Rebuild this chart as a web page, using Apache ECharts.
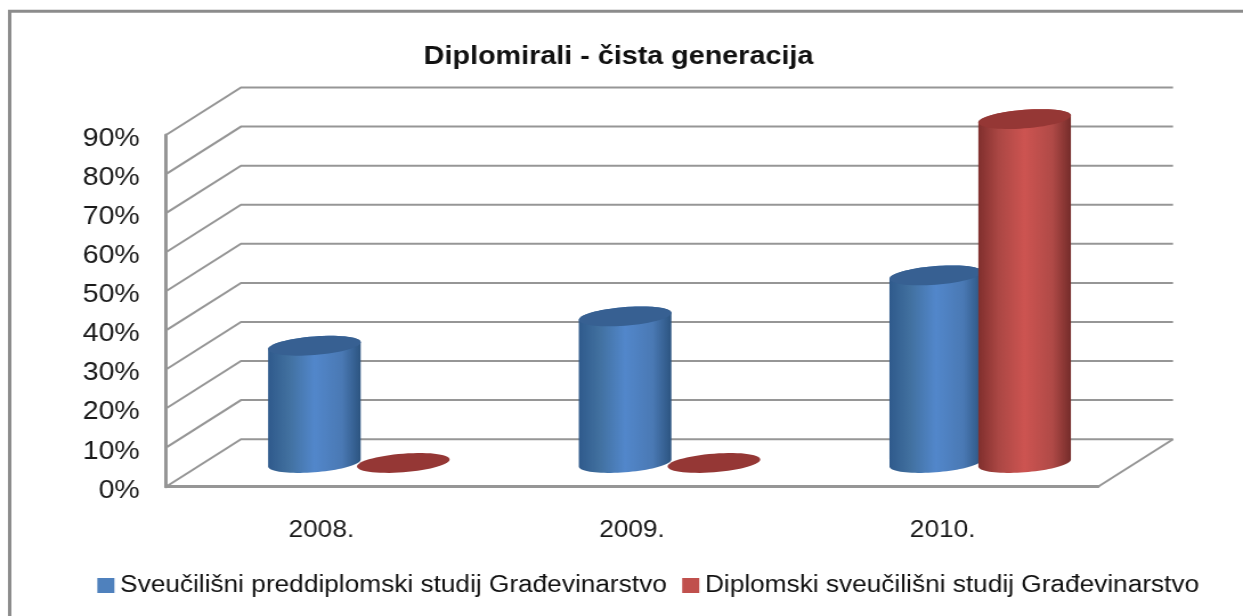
<!DOCTYPE html>
<html><head><meta charset="utf-8">
<style>html,body{margin:0;padding:0;background:#fff;overflow:hidden;width:1243px;height:616px}
#c{width:1090px;height:616px;transform:scaleX(1.140367);transform-origin:0 0;filter:blur(0.35px)}</style>
<script src="https://cdn.jsdelivr.net/npm/echarts@6/dist/echarts.min.js"></script>
</head><body><div id="c"></div>
<script>
const titleText = 'Diplomirali - čista generacija';
const categories = ['2008.', '2009.', '2010.'];
const tickValues = [0, 10, 20, 30, 40, 50, 60, 70, 80, 90];
const seriesNames = ['Sveučilišni preddiplomski studij Građevinarstvo', 'Diplomski sveučilišni studij Građevinarstvo'];
const undergraduate = [30, 37.5, 48];
const graduate = [0, 0, 88];

const S = 1243 / 1090;
const depthX = 75 / S, depthY = -47.5;
const palette = [
  {legend:'#4f81bd', top:'#376092', stops:['#2f5a8c','#41709f','#5287cb','#4a79b4','#2c5480']},
  {legend:'#c0504d', top:'#953735', stops:['#802f2d','#ab4744','#cd5451','#b04a47','#752c2a']}
];
const chart = echarts.init(document.getElementById('c'));

function renderWall(params, api){
  const v = api.value(1);
  const cs = params.coordSys;
  const y = api.coord([0, v])[1];
  const x0 = cs.x, x1 = cs.x + cs.width;
  const style = {stroke:'#969696', lineWidth:2, fill:null};
  const kids = [{type:'polyline', shape:{points:[[x0,y],[x0+depthX,y+depthY],[x1+depthX,y+depthY]]}, style}];
  if (v === 0) kids.push({type:'polyline', shape:{points:[[x1,y],[x1+depthX,y+depthY]]}, style});
  return {type:'group', children:kids};
}
function makeCyl(idx){
  return function(params, api){
    const p = api.coord([api.value(0), api.value(1)]);
    const base = api.coord([api.value(0), 0]);
    const band = api.size([1,0])[0];
    const r = band * 0.149;
    const cx = p[0] + depthX/2 + (idx === 0 ? -1 : 1) * band * 0.143;
    const yt = p[1] + depthY/2, yb = base[1] + depthY/2;
    const b = 9.3, shear = 3.5;
    const ell = (cy, a0, a1, n) => {
      const pts = [];
      for (let i = 0; i <= n; i++){
        const t = a0 + (a1-a0)*i/n;
        pts.push([cx + r*Math.cos(t), cy + b*Math.sin(t) - shear*Math.cos(t)]);
      }
      return pts;
    };
    const c = palette[idx];
    const kids = [];
    if (yb - yt > 1){
      const body = ell(yb, 0, Math.PI, 40).concat(ell(yt, Math.PI, 2*Math.PI, 40));
      kids.push({type:'polygon', shape:{points:body}, style:{fill:new echarts.graphic.LinearGradient(0,0,1,0,
        c.stops.map((col,i)=>({offset:[0,0.22,0.5,0.8,1][i],color:col})))}});
    }
    kids.push({type:'polygon', shape:{points:ell(yt,0,2*Math.PI,60)}, style:{fill:c.top}});
    return {type:'group', children:kids};
  };
}
const gridLeft = 166/S, gridRight = (1243-1098)/S, gridTop = 135, gridBottom = 616-486.7;
chart.setOption({
  animation:false,
  backgroundColor:'#fff',
  title:{text:titleText, left:618.5/S-5, textAlign:'center', top:40,
    textStyle:{fontFamily:'Liberation Sans', fontWeight:'bold', fontSize:25.2, color:'#111'}},
  legend:{left:97.3/S-5, top:569, icon:'rect', itemWidth:15, itemHeight:15, itemGap:13.5,
    data:seriesNames.map((n,i)=>({name:n, itemStyle:{color:palette[i].legend}})),
    textStyle:{fontFamily:'Liberation Sans', fontSize:23, color:'#111', padding:0}},
  grid:{left:gridLeft, right:gridRight, top:gridTop, bottom:gridBottom},
  xAxis:{type:'category', data:categories, axisTick:{show:false},
    axisLine:{lineStyle:{color:'#969696', width:3}},
    axisLabel:{margin:32, fontFamily:'Liberation Sans', fontSize:23, color:'#1a1a1a'}},
  yAxis:{type:'value', min:0, max:90, interval:10, splitLine:{show:false}, axisTick:{show:false},
    axisLine:{show:true, lineStyle:{color:'#969696', width:3}},
    axisLabel:{margin:23, verticalAlign:'top', lineHeight:8, formatter:'{value}%', fontFamily:'Liberation Sans', fontSize:25, color:'#1a1a1a'}},
  series:[
    {type:'custom', name:'wall', silent:true, z:1, renderItem:renderWall, encode:{x:0,y:1},
      data:tickValues.map(v=>[0,v])},
    {type:'custom', name:seriesNames[0], z:2, renderItem:makeCyl(0), encode:{x:0,y:1},
      itemStyle:{color:palette[0].legend}, data:undergraduate.map((v,i)=>[i,v])},
    {type:'custom', name:seriesNames[1], z:3, renderItem:makeCyl(1), encode:{x:0,y:1},
      itemStyle:{color:palette[1].legend}, data:graduate.map((v,i)=>[i,v])}
  ],
  graphic:[{type:'rect', z:100, silent:true, shape:{x:9.7/S,y:11.3,width:1300,height:640},
    style:{fill:null, stroke:'#8c8c8c', lineWidth:3}}]
});
</script></body></html>
